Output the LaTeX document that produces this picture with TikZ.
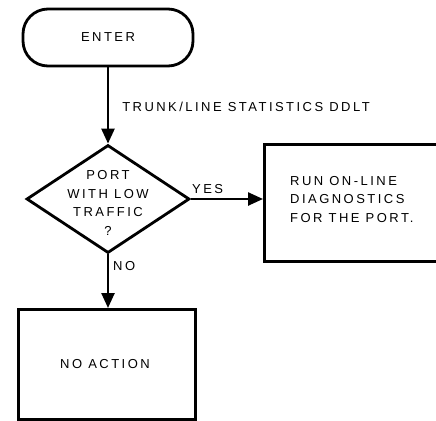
\documentclass[tikz,border=0pt]{standalone}
\usepackage{fontspec}
\setmainfont{Liberation Sans}[LetterSpace=19]
\usetikzlibrary{arrows.meta,shapes.geometric}

\tikzset{
  lbl/.style={font=\fontsize{13}{18.5}\selectfont, inner sep=0pt},
  shapeline/.style={draw=black, line width=2.8pt},
  terminal/.style={shapeline, rounded corners=25pt, minimum width=170pt, minimum height=57pt, inner sep=0pt},
  decision/.style={shapeline, diamond, minimum width=163pt, minimum height=108pt, inner sep=0pt},
  process/.style={shapeline, inner sep=0pt},
  flow/.style={line width=2.5pt, -{Triangle[length=15pt,width=13pt]}},
}

\begin{document}
\begin{tikzpicture}[x=1pt, y=-1pt]
  \useasboundingbox (0,0) rectangle (436,420);

  % start terminal
  \node[terminal, lbl] (enter) at (108,37.5) {ENTER};

  % decision on port traffic
  \node[decision] (dec) at (108,199) {};
  \node[lbl, align=center] (dectext) at (108,203) {PORT\\WITH LOW\\TRAFFIC\\?};

  % diagnostics box (runs past the right edge)
  \node[process, minimum width=190pt, minimum height=117pt, anchor=north west] (diag) at (263,143) {};
  \node[lbl, align=left, anchor=north west] (diagtext) at (290,176) {RUN ON-LINE\\DIAGNOSTICS\\FOR THE PORT.};

  % no-action box
  \node[process, minimum width=177pt, minimum height=110pt, anchor=north west] (noact) at (17,308) {};
  \node[lbl] (noacttext) at (105,364) {NO ACTION};

  % connectors
  \draw[flow] (enter.south) -- node[lbl, anchor=west, xshift=13pt, yshift=-1pt] (ddlt) {TRUNK/LINE STATISTICS DDLT} (dec.north);
  \draw[flow] (dec.east) -- (diag.west |- dec.east);
  \node[lbl, anchor=south west] (yes) at (192,194) {YES};
  \draw[flow] (dec.south) -- (noact.north -| dec.south);
  \node[lbl, anchor=west] (no) at (113,266) {NO};
\end{tikzpicture}
\end{document}
